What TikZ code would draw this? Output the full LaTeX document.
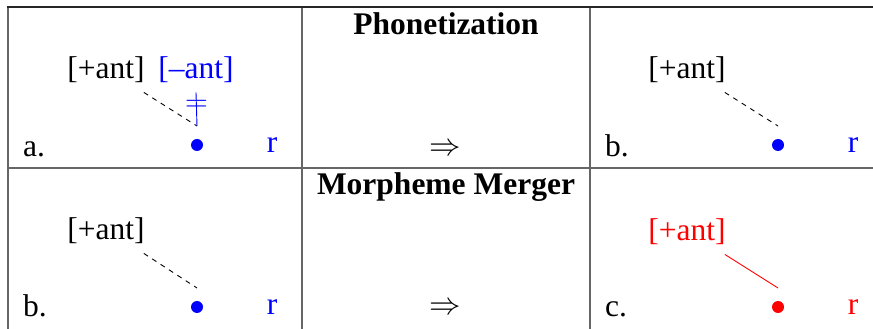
\RequirePackage{fix-cm}
\documentclass[tikz,border=0pt]{standalone}
\usepackage{fontspec}
\setmainfont{Liberation Serif}
\usepackage{tikz}
\usetikzlibrary{positioning,calc}

\tikzset{
  every node/.style={font=\fontsize{31.5}{36}\selectfont},
  feat/.style={inner sep=0pt,anchor=base},
  lab/.style={inner sep=0pt,anchor=base west},
  seg/.style={circle,fill,inner sep=0pt,minimum size=12pt},
  assoc/.style={line width=0.9pt,dash pattern=on 5pt off 5pt},
  link/.style={line width=0.9pt},
  rule/.style={black!60,line width=1.3pt},
}

\begin{document}
\begin{tikzpicture}[x=1pt,y=1pt]
\useasboundingbox (0,0) rectangle (873,329);
% table frame
\draw[rule] (8,0) -- (8,322);
\draw[rule] (302,0) -- (302,322);
\draw[rule] (590,0) -- (590,322);
\draw[rule] (8,161) -- (873,161);
\draw[black!85,line width=1.5pt] (7.35,322) -- (873,322);

% headings and arrows
\node[feat,font=\fontsize{31.5}{36}\selectfont\bfseries] (phon) at (446,294) {Phonetization};
\node[feat,font=\fontsize{31.5}{36}\selectfont\bfseries] (merge) at (446,134) {Morpheme Merger};
\node (arr1) at (445,179) {$\Rightarrow$};
\node (arr2) at (445,20) {$\Rightarrow$};

% a.
\node[lab] (la) at (23,172) {a.};
\node[feat] (pa) at (106,250) {[+ant]};
\node[feat,blue] (ma) at (196,250) {[--ant]};
\node[seg,blue] (da) at (197,184) {};
\coordinate (da-top) at ($(da)+(0,19)$);
\node[feat,blue] (ra) at (272,176) {r};
\draw[assoc] ([shift={(-1,-9)}]pa.south east) -- (da-top);
\draw[link,blue] ([yshift=-9pt]ma.south) -- (da-top)
  node[pos=0.4,inner sep=0pt,blue] {$=$};

% b. (top right)
\node[lab] (lb1) at (605,172) {b.};
\node[feat] (pb1) at (687,250) {[+ant]};
\node[seg,blue] (db1) at (778,184) {};
\coordinate (db1-top) at ($(db1)+(0,19)$);
\node[feat,blue] (rb1) at (853,176) {r};
\draw[assoc] ([shift={(-1,-9)}]pb1.south east) -- (db1-top);

% b. (bottom left)
\node[lab] (lb2) at (23,12) {b.};
\node[feat] (pb2) at (106,89) {[+ant]};
\node[seg,blue] (db2) at (197,22) {};
\coordinate (db2-top) at ($(db2)+(0,19)$);
\node[feat,blue] (rb2) at (272,14) {r};
\draw[assoc] ([shift={(-1,-9)}]pb2.south east) -- (db2-top);

% c.
\node[lab] (lc) at (605,12) {c.};
\node[feat,red] (pc) at (687,88) {[+ant]};
\node[seg,red] (dc) at (778,22) {};
\coordinate (dc-top) at ($(dc)+(0,19)$);
\node[feat,red] (rc) at (853,14) {r};
\draw[link,red] ([shift={(-1,-9)}]pc.south east) -- (dc-top);
\end{tikzpicture}
\end{document}
